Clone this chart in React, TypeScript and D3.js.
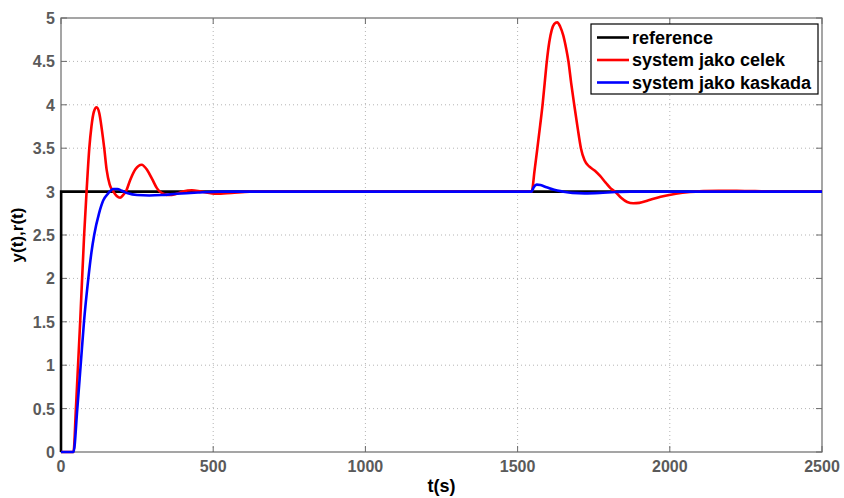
import React, { useEffect } from "react";
import * as d3 from "d3";

// Reference signal r(t): step to 3 at t = 0
const refT = [0, 0.5, 2500];
const refY = [0, 3, 3];

// System response, controller designed for the whole plant
const celekT = [
  0, 41, 49, 63, 76, 84, 93, 100, 108, 117, 126, 134, 142, 150, 160, 172, 183, 194, 204, 213,
  228, 245, 265, 283, 300, 315, 325, 340, 355, 375, 400, 430, 460, 510, 560, 620, 1546,
  1556, 1565, 1574, 1582, 1589, 1596, 1604, 1612, 1620, 1630, 1640, 1650, 1660, 1667, 1676,
  1686, 1697, 1708, 1720, 1735, 1754, 1771, 1790, 1805, 1820, 1840, 1860, 1880, 1900, 1930,
  1970, 2020, 2066, 2110, 2160, 2220, 2280, 2350, 2500,
];
const celekY = [
  0, 0, 0.5, 1.5, 2.5, 3.0, 3.5, 3.75, 3.92, 3.97, 3.9, 3.72, 3.5, 3.25, 3.08, 3.0, 2.95, 2.93,
  2.96, 3.0, 3.14, 3.26, 3.31, 3.25, 3.14, 3.04, 3.0, 2.97, 2.96, 2.97, 3.0, 3.015, 3.0, 2.975,
  2.985, 3.0, 3.0, 3.25, 3.5, 3.76, 4.0, 4.25, 4.5, 4.72, 4.86, 4.93, 4.95, 4.9, 4.8, 4.64,
  4.5, 4.25, 4.0, 3.74, 3.5, 3.36, 3.29, 3.24, 3.18, 3.1, 3.04, 3.0, 2.93, 2.88, 2.865, 2.87,
  2.9, 2.94, 2.975, 2.995, 3.005, 3.01, 3.01, 3.005, 3.0, 3.0,
];

// System response, cascade control
const kaskadaT = [
  0, 41, 53.6, 64.6, 75.5, 89.8, 100, 109, 125, 139, 155, 172, 185, 200, 220, 250, 290, 330,
  380, 450, 520, 1546, 1553, 1563, 1575, 1595, 1620, 1649, 1680, 1720, 1770, 1820, 1870, 2500,
];
const kaskadaY = [
  0, 0, 0.5, 1.0, 1.5, 2.0, 2.3, 2.5, 2.75, 2.9, 2.98, 3.03, 3.03, 3.01, 2.98, 2.96, 2.955,
  2.96, 2.975, 2.99, 3.0, 3.0, 3.05, 3.08, 3.075, 3.05, 3.02, 3.0, 2.985, 2.98, 2.985, 2.995,
  3.0, 3.0,
];

const xTicks = [0, 500, 1000, 1500, 2000, 2500];
const yTicks = [0, 0.5, 1, 1.5, 2, 2.5, 3, 3.5, 4, 4.5, 5];

const legendLabels = ["reference", "system jako celek", "system jako kaskada"];
const seriesColors = ["#000000", "#ff0000", "#0000ff"];

const W = 844;
const H = 498;
const M = { left: 61, right: 22, top: 18, bottom: 46 };

const FONT = "'Liberation Sans', Arial, Helvetica, sans-serif";
const AXIS = "#6a6a6a";
const TICKTEXT = "#5a5a5a";

export default function App() {
  useEffect(() => {
    document.body.style.margin = "0";
  }, []);

  const x = d3.scaleLinear().domain([0, 2500]).range([M.left, W - M.right]);
  const y = d3.scaleLinear().domain([0, 5]).range([H - M.bottom, M.top]);

  const smooth = d3
    .line<[number, number]>()
    .x((d) => x(d[0]))
    .y((d) => y(d[1]))
    .curve(d3.curveMonotoneX);
  const straight = d3
    .line<[number, number]>()
    .x((d) => x(d[0]))
    .y((d) => y(d[1]));

  const zip = (ts: number[], vs: number[]) => ts.map((t, i) => [t, vs[i]] as [number, number]);

  const x0 = x(0);
  const x1 = x(2500);
  const y0 = y(0);
  const y1 = y(5);
  const tickLen = 6;

  const legX = 591;
  const legY = 24;
  const legW = 227;
  const legH = 70;

  return (
    <svg
      width={W}
      height={H}
      style={{ position: "absolute", left: 0, top: 0, background: "#fff" }}
      fontFamily={FONT}
    >
      <rect x={0} y={0} width={W} height={H} fill="#fff" />

      {/* grid */}
      <g stroke="#b4b4b4" strokeWidth={1} strokeDasharray="1,3">
        {xTicks.slice(1, -1).map((t) => (
          <line key={"gx" + t} x1={x(t)} x2={x(t)} y1={y0} y2={y1} />
        ))}
        {yTicks.slice(1, -1).map((t) => (
          <line key={"gy" + t} x1={x0} x2={x1} y1={y(t)} y2={y(t)} />
        ))}
      </g>

      {/* frame and ticks */}
      <rect x={x0} y={y1} width={x1 - x0} height={y0 - y1} fill="none" stroke={AXIS} strokeWidth={1.2} />
      <g stroke={AXIS} strokeWidth={1}>
        {xTicks.map((t) => (
          <g key={"tx" + t}>
            <line x1={x(t)} x2={x(t)} y1={y0} y2={y0 - tickLen} />
            <line x1={x(t)} x2={x(t)} y1={y1} y2={y1 + tickLen} />
          </g>
        ))}
        {yTicks.map((t) => (
          <g key={"ty" + t}>
            <line x1={x0} x2={x0 + tickLen} y1={y(t)} y2={y(t)} />
            <line x1={x1} x2={x1 - tickLen} y1={y(t)} y2={y(t)} />
          </g>
        ))}
      </g>

      {/* series */}
      <path d={straight(zip(refT, refY)) || ""} fill="none" stroke={seriesColors[0]} strokeWidth={2.6} />
      <path d={smooth(zip(celekT, celekY)) || ""} fill="none" stroke={seriesColors[1]} strokeWidth={2.6} strokeLinejoin="round" />
      <path d={smooth(zip(kaskadaT, kaskadaY)) || ""} fill="none" stroke={seriesColors[2]} strokeWidth={2.6} strokeLinejoin="round" />

      {/* tick labels */}
      <g fill={TICKTEXT} fontSize={16} fontWeight="bold">
        {xTicks.map((t) => (
          <text key={"lx" + t} x={x(t)} y={y0 + 20} textAnchor="middle">
            {t}
          </text>
        ))}
        {yTicks.map((t) => (
          <text key={"ly" + t} x={x0 - 6} y={y(t) + 6} textAnchor="end">
            {t}
          </text>
        ))}
      </g>

      {/* axis titles */}
      <text x={(x0 + x1) / 2} y={H - 6} textAnchor="middle" fontSize={18} fontWeight="bold" fill="#000">
        t(s)
      </text>
      <text
        transform={`translate(${23},${(y0 + y1) / 2}) rotate(-90)`}
        textAnchor="middle"
        fontSize={17}
        fontWeight="bold"
        fill="#000"
      >
        y(t),r(t)
      </text>

      {/* legend */}
      <g>
        <rect x={legX} y={legY} width={legW} height={legH} fill="#fff" stroke="#000" strokeWidth={1.2} />
        {legendLabels.map((label, i) => {
          const cy = legY + 13.5 + i * 22.5;
          return (
            <g key={label}>
              <line x1={legX + 6} x2={legX + 38} y1={cy} y2={cy} stroke={seriesColors[i]} strokeWidth={2.6} />
              <text x={legX + 41} y={cy + 6} fontSize={18} fontWeight="bold" fill="#000">
                {label}
              </text>
            </g>
          );
        })}
      </g>
    </svg>
  );
}
